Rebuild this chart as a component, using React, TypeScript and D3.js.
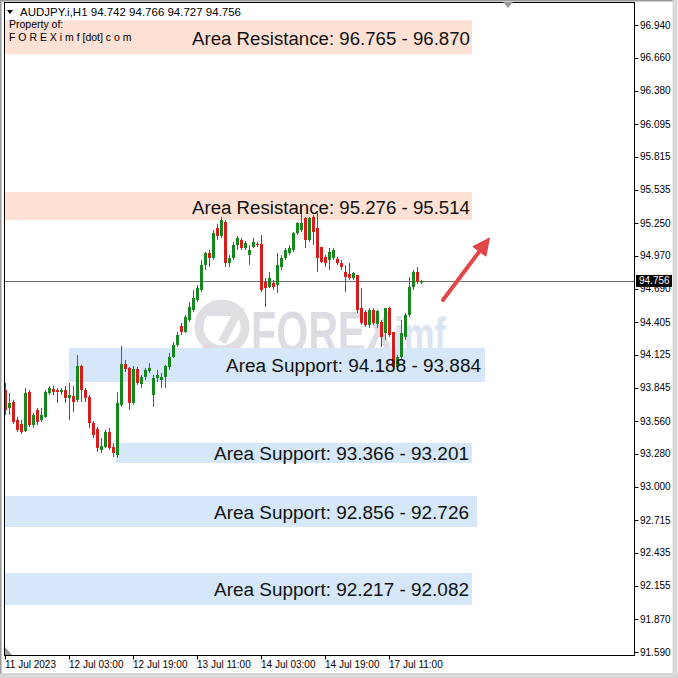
import React from 'react';
import * as d3 from 'd3';

const symbolTitle = 'AUDJPY.i,H1';
const headerOHLC = ['94.742', '94.766', '94.727', '94.756'];

// hourly candles, bar 0 = first visible bar
const opens = [
  93.826, 93.672, 93.723, 93.570, 93.536, 93.476, 93.809, 93.527, 93.655, 93.570,
  93.596, 93.800, 93.834, 93.826, 93.809, 93.826, 93.758, 93.775, 93.741, 94.031,
  93.826, 93.766, 93.544, 93.493, 93.314, 93.339, 93.467, 93.339, 93.271, 93.698,
  94.048, 94.014, 93.715, 94.005, 93.877, 93.937, 93.988, 93.783, 93.928, 93.911,
  93.937, 94.022, 94.107, 94.210, 94.372, 94.321, 94.423, 94.508, 94.594, 94.679,
  94.892, 94.995, 94.952, 95.208, 95.140, 95.259, 94.909, 94.952, 95.063, 95.106,
  95.037, 94.978, 95.046, 95.072, 95.072, 94.747, 94.705, 94.739, 94.722, 94.875,
  94.952, 94.995, 95.020, 95.165, 95.191, 95.293, 95.106, 95.302, 95.208, 95.046,
  94.961, 94.935, 94.952, 94.944, 94.909, 94.833, 94.816, 94.781, 94.807, 94.525,
  94.491, 94.380, 94.508, 94.389, 94.406, 94.312, 94.525, 94.321, 94.022, 94.107,
  94.278, 94.466, 94.705, 94.833, 94.742,
];
const highs = [
  93.886, 93.800, 93.741, 93.596, 93.570, 93.843, 93.826, 93.630, 93.672, 93.672,
  93.826, 93.860, 93.860, 93.843, 93.843, 93.860, 93.886, 93.860, 94.124, 94.040,
  93.843, 93.783, 93.561, 93.510, 93.416, 93.485, 93.502, 93.374, 93.809, 94.201,
  94.082, 94.022, 94.031, 94.022, 93.954, 94.014, 94.056, 93.954, 93.997, 93.971,
  94.040, 94.142, 94.235, 94.321, 94.398, 94.466, 94.577, 94.679, 94.722, 94.935,
  95.003, 95.020, 95.191, 95.242, 95.302, 95.276, 94.978, 95.089, 95.140, 95.123,
  95.097, 95.063, 95.123, 95.089, 95.148, 94.781, 94.833, 94.764, 94.995, 94.978,
  95.037, 95.063, 95.174, 95.259, 95.379, 95.302, 95.302, 95.319, 95.336, 95.046,
  94.978, 95.037, 95.037, 94.961, 94.935, 94.892, 94.909, 94.833, 94.807, 94.696,
  94.508, 94.525, 94.525, 94.508, 94.423, 94.525, 94.534, 94.321, 94.124, 94.423,
  94.483, 94.790, 94.850, 94.875, 94.766,
];
const lows = [
  93.613, 93.613, 93.536, 93.467, 93.450, 93.467, 93.510, 93.502, 93.527, 93.553,
  93.587, 93.783, 93.783, 93.715, 93.783, 93.715, 93.570, 93.638, 93.723, 93.723,
  93.723, 93.502, 93.416, 93.297, 93.288, 93.331, 93.314, 93.254, 93.246, 93.681,
  93.979, 93.655, 93.698, 93.869, 93.843, 93.911, 93.971, 93.681, 93.894, 93.843,
  93.843, 93.997, 94.099, 94.193, 94.295, 94.312, 94.406, 94.491, 94.577, 94.662,
  94.850, 94.875, 94.935, 95.106, 95.123, 94.875, 94.875, 94.935, 95.020, 95.020,
  95.020, 94.892, 95.037, 95.046, 94.662, 94.534, 94.696, 94.679, 94.653, 94.850,
  94.935, 94.978, 95.003, 95.148, 95.174, 95.037, 95.089, 95.063, 94.833, 94.909,
  94.875, 94.850, 94.935, 94.892, 94.850, 94.662, 94.764, 94.764, 94.483, 94.380,
  94.363, 94.355, 94.380, 94.355, 94.193, 94.252, 94.278, 94.014, 94.005, 94.082,
  94.252, 94.449, 94.679, 94.730, 94.727,
];
const closes = [
  93.655, 93.715, 93.553, 93.485, 93.467, 93.800, 93.527, 93.613, 93.553, 93.613,
  93.809, 93.843, 93.809, 93.809, 93.826, 93.758, 93.783, 93.723, 94.031, 93.826,
  93.758, 93.544, 93.442, 93.331, 93.348, 93.467, 93.331, 93.288, 93.715, 94.048,
  94.005, 93.715, 94.005, 93.886, 93.937, 93.997, 94.014, 93.928, 93.954, 93.937,
  94.031, 94.107, 94.210, 94.295, 94.321, 94.449, 94.534, 94.611, 94.696, 94.892,
  94.995, 94.952, 95.165, 95.140, 95.276, 94.909, 94.952, 95.063, 95.123, 95.037,
  95.080, 95.020, 95.089, 95.063, 94.679, 94.696, 94.781, 94.705, 94.892, 94.952,
  95.020, 95.037, 95.165, 95.251, 95.251, 95.106, 95.293, 95.174, 94.952, 94.918,
  94.909, 95.003, 95.020, 94.909, 94.875, 94.790, 94.781, 94.824, 94.508, 94.398,
  94.380, 94.508, 94.398, 94.500, 94.278, 94.525, 94.295, 94.022, 94.107, 94.312,
  94.466, 94.705, 94.833, 94.747, 94.756,
];

const priceTicks = [96.94, 96.66, 96.38, 96.095, 95.815, 95.535, 95.25, 94.97, 94.69, 94.405,
  94.125, 93.845, 93.56, 93.28, 93.0, 92.715, 92.435, 92.155, 91.87, 91.59];
const timeTickIndex = [0, 16, 32, 48, 64, 80, 96];
const timeTickLabels = ['11 Jul 2023', '12 Jul 03:00', '12 Jul 19:00', '13 Jul 11:00', '14 Jul 03:00', '14 Jul 19:00', '17 Jul 11:00'];

const zoneKinds = ['resistance', 'resistance', 'support', 'support', 'support', 'support'];
const zoneLabels = [
  'Area Resistance: 96.765 - 96.870',
  'Area Resistance: 95.276 - 95.514',
  'Area Support: 94.188 - 93.884',
  'Area Support: 93.366 - 93.201',
  'Area Support: 92.856 - 92.726',
  'Area Support: 92.217 - 92.082',
];
const zoneTop = [96.98, 95.515, 94.184, 93.374, 92.922, 92.264];
const zoneBottom = [96.69, 95.276, 93.894, 93.203, 92.657, 91.992];
const zoneStart = [-3, -3, 16, 27.75, -3, -3];
const zoneEnd = [116.75, 116.75, 120, 116.75, 118, 116.75];
const zoneLabelAt = [46.75, 46.75, 55.25, 52.25, 52.25, 52.25];

const lastPrice = 94.756;
const arrowFrom = [109.5, 94.594];
const arrowTo = [120.75, 95.106];

const W = 678;
const H = 678;
const PL = 4.5;
const PR = 634.5;
const PT = 2.5;
const PB = 655.5;

export default function App() {
  const x = d3.scaleLinear().domain([0, 157]).range([5, 633]);
  const y = d3.scaleLinear().domain([91.59, 96.94]).range([652, 25]);
  const green = '#16861f';
  const red = '#d71c1c';
  const font = '"Liberation Sans", Arial, sans-serif';

  const ax0 = x(arrowFrom[0]);
  const ay0 = y(arrowFrom[1]);
  const ax1 = x(arrowTo[0]);
  const ay1 = y(arrowTo[1]);
  const ang = Math.atan2(ay1 - ay0, ax1 - ax0);
  const hl = 16;
  const hw = 0.5;
  const headPts = [
    [ax1 + 2 * Math.cos(ang), ay1 + 2 * Math.sin(ang)],
    [ax1 - hl * Math.cos(ang - hw), ay1 - hl * Math.sin(ang - hw)],
    [ax1 - hl * Math.cos(ang + hw), ay1 - hl * Math.sin(ang + hw)],
  ];

  return (
    <svg width={W} height={H} style={{ position: 'absolute', left: 0, top: 0, background: '#fff' }} fontFamily={font}>
      <defs>
        <clipPath id="plot">
          <rect x={PL} y={PT} width={PR - PL} height={PB - PT} />
        </clipPath>
      </defs>
      <rect x={0} y={0} width={W} height={H} fill="#fff" />
      {/* window frame */}
      <rect x={0.5} y={0.5} width={W - 4} height={H - 4} fill="none" stroke="#9a9a9a" strokeWidth={2} />
      <line x1={W - 3} y1={0} x2={W - 3} y2={H} stroke="#d8d8d8" strokeWidth={5} />
      <line x1={0} y1={H - 2} x2={W} y2={H - 2} stroke="#d8d8d8" strokeWidth={5} />

      <g clipPath="url(#plot)">
        {/* watermark */}
        <g>
          <circle cx={222} cy={327} r={23} fill="none" stroke="#dedee3" strokeWidth={9} />
          <path d="M 204 346 A 25 25 0 0 0 240 348" fill="none" stroke="#f2cfd8" strokeWidth={6} />
          <path d="M 208 312 L 238 312 L 222 342" fill="none" stroke="#dedee3" strokeWidth={8} />
          <text x={251} y={352} fontSize={58} fontWeight="bold" fill="#dcdce2" textLength={142} lengthAdjust="spacingAndGlyphs">FOREX</text>
          <text x={394} y={352} fontSize={50} fontWeight="bold" fill="#dbe4f0" textLength={52} lengthAdjust="spacingAndGlyphs">imf</text>
        </g>

        {/* zones */}
        {zoneLabels.map((_, i) => (
          <rect key={'z' + i}
            x={x(zoneStart[i])} y={y(zoneTop[i])}
            width={x(zoneEnd[i]) - x(zoneStart[i])} height={y(zoneBottom[i]) - y(zoneTop[i])}
            fill={zoneKinds[i] === 'resistance' ? '#fce1d4' : '#d5e7f8'} />
        ))}

        {/* last price line */}
        <line x1={PL} x2={PR} y1={Math.round(y(lastPrice)) + 0.5} y2={Math.round(y(lastPrice)) + 0.5} stroke="#6e6e6e" strokeWidth={1} />

        {/* candles */}
        {opens.map((o, i) => {
          const c = closes[i];
          const col = c >= o ? green : red;
          const cx = x(i);
          const top = y(Math.max(o, c));
          const bot = y(Math.min(o, c));
          return (
            <g key={'c' + i}>
              <line x1={cx + 0.5} x2={cx + 0.5} y1={y(highs[i])} y2={y(lows[i])} stroke={col} strokeWidth={1} />
              <rect x={cx - 1} y={top} width={3} height={Math.max(1, bot - top)} fill={col} />
            </g>
          );
        })}

        {/* zone labels */}
        {zoneLabels.map((t, i) => (
          <text key={'zl' + i}
            x={x(zoneLabelAt[i])}
            y={(y(zoneTop[i]) + y(zoneBottom[i])) / 2 + 1}
            textLength={zoneKinds[i] === 'resistance' ? 278 : 255}
            lengthAdjust="spacingAndGlyphs"
            dominantBaseline="central" fontSize={18.8} fill="#111">{t}</text>
        ))}

        {/* trend arrow */}
        <line x1={ax0} y1={ay0} x2={ax1 - 10 * Math.cos(ang)} y2={ay1 - 10 * Math.sin(ang)} stroke="#e2474a" strokeWidth={4} strokeLinecap="round" />
        <polygon points={headPts.map(p => p.join(',')).join(' ')} fill="#e2474a" stroke="#e2474a" strokeWidth={1.5} strokeLinejoin="round" />

        {/* header */}
        <path d="M 7 10 L 13 10 L 10 14 Z" fill="#000" />
        <text x={20} y={16} fontSize={11.5} fill="#000">{symbolTitle + '  ' + headerOHLC.join(' ')}</text>
        <text x={9} y={28} fontSize={10.5} fill="#000">Property of:</text>
        <text x={9} y={41} fontSize={10.5} fill="#000">F O R E X i m f [dot] c o m</text>

        <path d="M 5 647 L 5 655 L 12 655 Z" fill="#9a9a9a" />
      </g>

      {/* plot frame */}
      <rect x={PL} y={PT} width={PR - PL} height={PB - PT} fill="none" stroke="#000" strokeWidth={1} />
      <path d="M 503 2 L 513 2 L 508 8 Z" fill="#9a9a9a" />

      {/* price axis */}
      {priceTicks.map((p, i) => (
        <g key={'pt' + i}>
          <line x1={PR} x2={PR + 4} y1={Math.round(y(p)) + 0.5} y2={Math.round(y(p)) + 0.5} stroke="#000" />
          <text x={640} y={y(p)} dominantBaseline="central" fontSize={10} fill="#000">{p.toFixed(3)}</text>
        </g>
      ))}
      <rect x={636} y={y(lastPrice) - 6} width={36} height={12} fill="#000" />
      <text x={639} y={y(lastPrice)} dominantBaseline="central" fontSize={10} fill="#fff">{lastPrice.toFixed(3)}</text>

      {/* time axis */}
      {timeTickIndex.map((t, i) => (
        <g key={'tt' + i}>
          <line x1={x(t) + 0.5} x2={x(t) + 0.5} y1={PB} y2={PB + 4} stroke="#000" />
          <text x={x(t)} y={668} fontSize={10} fill="#000">{timeTickLabels[i]}</text>
        </g>
      ))}
    </svg>
  );
}
